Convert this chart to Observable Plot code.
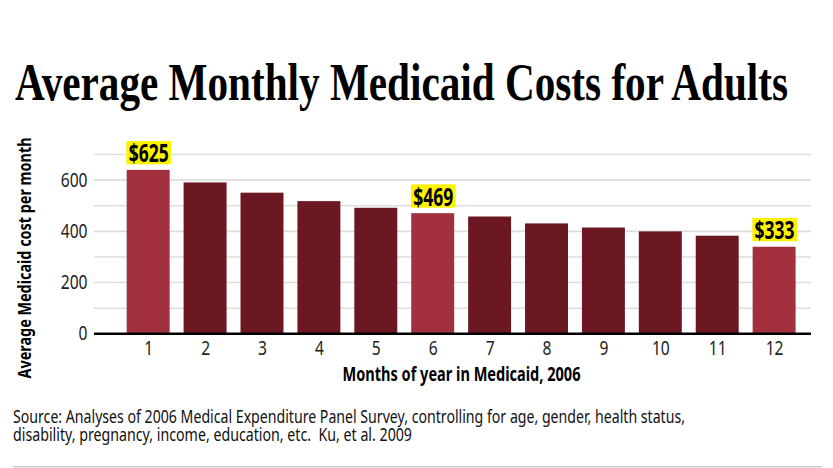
<!DOCTYPE html>
<html>
<head>
<meta charset="utf-8">
<script src="https://cdn.jsdelivr.net/npm/d3@7"></script>
<script src="https://cdn.jsdelivr.net/npm/@observablehq/plot@0.6"></script>
<style>
  html, body { margin: 0; padding: 0; background: #fff; }
  body { width: 833px; height: 468px; overflow: hidden; }
  svg { display: block; }
</style>
</head>
<body>
<script>
// ---- data ----
const months = [1, 2, 3, 4, 5, 6, 7, 8, 9, 10, 11, 12];
const costs = [638, 589, 549, 516, 490, 469, 456, 429, 413, 398, 381, 338];
const highlightMonths = [1, 6, 12];
const highlightLabels = ["$625", "$469", "$333"];
const yTicks = [0, 200, 400, 600];
const gridValues = [100, 200, 300, 400, 500, 600, 700];
const titleText = "Average Monthly Medicaid Costs for Adults";
const yLabelText = "Average Medicaid cost per month";
const xLabelText = "Months of year in Medicaid, 2006";
const sourceLines = [
  "Source: Analyses of 2006 Medical Expenditure Panel Survey, controlling for age, gender, health status,",
  "disability, pregnancy, income, education, etc.  Ku, et al. 2009"
];

const data = months.map((m, i) => ({month: m, cost: costs[i]}));
const labelData = highlightMonths.map((m, i) => ({month: m, cost: costs[months.indexOf(m)], label: highlightLabels[i]}));

const NS = "http://www.w3.org/2000/svg";
const SANS = "'Noto Sans', 'Open Sans', sans-serif";

// ---- title ----
const tsvg = document.createElementNS(NS, "svg");
tsvg.setAttribute("width", 833);
tsvg.setAttribute("height", 125);
const tt = document.createElementNS(NS, "text");
tt.setAttribute("x", 15);
tt.setAttribute("y", 100);
tt.setAttribute("font-family", "'Liberation Serif', serif");
tt.setAttribute("font-weight", "bold");
tt.setAttribute("font-size", 53);
tt.setAttribute("fill", "#000");
tt.setAttribute("textLength", 773);
tt.setAttribute("lengthAdjust", "spacingAndGlyphs");
tt.textContent = titleText;
tsvg.appendChild(tt);
document.body.appendChild(tsvg);

// ---- chart ----
const chart = Plot.plot({
  width: 833,
  height: 265,
  marginLeft: 94,
  marginRight: 22,
  marginTop: 29,
  marginBottom: 56.7,
  style: {background: "#fff", fontFamily: SANS, fontSize: "19px", color: "#222"},
  x: {type: "band", domain: months, paddingInner: 0.245, paddingOuter: 0, round: false, insetLeft: 32.7, insetRight: 15.4},
  y: {domain: [0, 700]},
  color: {type: "identity"},
  marks: [
    Plot.ruleY(gridValues, {stroke: "#dddddd", strokeWidth: 1.6}),
    Plot.barY(data, {
      x: "month", y: "cost",
      fill: d => highlightMonths.includes(d.month) ? "#a3303f" : "#6b1822"
    }),
    Plot.ruleY([0], {stroke: "#000", strokeWidth: 2.6}),
    Plot.axisY({ticks: yTicks, tickSize: 0, tickPadding: 7, label: null, fontSize: 20}),
    Plot.axisX({tickSize: 0, tickPadding: 7, label: null, fontSize: 20}),
    Plot.text([yLabelText], {frameAnchor: "left", textAnchor: "middle", rotate: -90, dx: -69, dy: 13.8, lineAnchor: "middle",
      fontWeight: "bold", fontSize: 18.5, fill: "#000"}),
    Plot.text([xLabelText], {frameAnchor: "bottom", textAnchor: "middle", dx: 8.5, dy: 41, lineAnchor: "middle",
      fontWeight: "bold", fontSize: 19, fill: "#000"}),
    Plot.text(labelData, {x: "month", y: "cost", text: "label", lineAnchor: "bottom", dy: -8,
      fontWeight: "bold", fontSize: 25, fill: "#000"})
  ]
});
document.body.appendChild(chart);

function squeeze(el, target) {
  el.setAttribute("textLength", target);
  el.setAttribute("lengthAdjust", "spacingAndGlyphs");
}
function squeezeFactor(el, f) {
  const w = el.getComputedTextLength();
  squeeze(el, w * f);
}
const cs = d3.select(chart);
cs.selectAll("g[aria-label='y-axis tick label'] text, g[aria-label='x-axis tick label'] text")
  .each(function() { squeezeFactor(this, 0.78); });
const textGroups = cs.selectAll("g[aria-label='text']").nodes();
// order: y label, x label, value labels
d3.select(textGroups[0]).selectAll("text").each(function() { squeeze(this, 241); });
d3.select(textGroups[1]).selectAll("text").each(function() { squeeze(this, 238); });
d3.select(textGroups[2]).selectAll("text").each(function() {
  squeeze(this, 40);
  const r = document.createElementNS(NS, "rect");
  const tr = this.getAttribute("transform");
  if (tr) r.setAttribute("transform", tr);
  const tx = this.getAttribute("x"), ty = this.getAttribute("y");
  const bx = tx && !String(tx).includes("em") ? +tx : 0;
  const by = ty && !String(ty).includes("em") ? +ty : 0;
  r.setAttribute("x", bx - 22.35);
  r.setAttribute("y", by - 21.3);
  r.setAttribute("width", 44.7);
  r.setAttribute("height", 23.3);
  r.setAttribute("fill", "#fff200");
  this.parentNode.insertBefore(r, this);
});

// ---- source ----
const ssvg = document.createElementNS(NS, "svg");
ssvg.setAttribute("width", 833);
ssvg.setAttribute("height", 78);
const lens = [672, 399];
const ys = [33, 50.5];
sourceLines.forEach((s, i) => {
  const t = document.createElementNS(NS, "text");
  t.setAttribute("x", 13);
  t.setAttribute("y", ys[i]);
  t.setAttribute("font-family", SANS);
  t.setAttribute("font-size", 18);
  t.setAttribute("fill", "#111");
  t.setAttribute("textLength", lens[i]);
  t.setAttribute("lengthAdjust", "spacingAndGlyphs");
  t.style.whiteSpace = "pre";
  t.textContent = s;
  ssvg.appendChild(t);
});
const hr = document.createElementNS(NS, "line");
hr.setAttribute("x1", 13); hr.setAttribute("x2", 822);
hr.setAttribute("y1", 76.7); hr.setAttribute("y2", 76.7);
hr.setAttribute("stroke", "#cccccc"); hr.setAttribute("stroke-width", 1.5);
ssvg.appendChild(hr);
document.body.appendChild(ssvg);
</script>
</body>
</html>
